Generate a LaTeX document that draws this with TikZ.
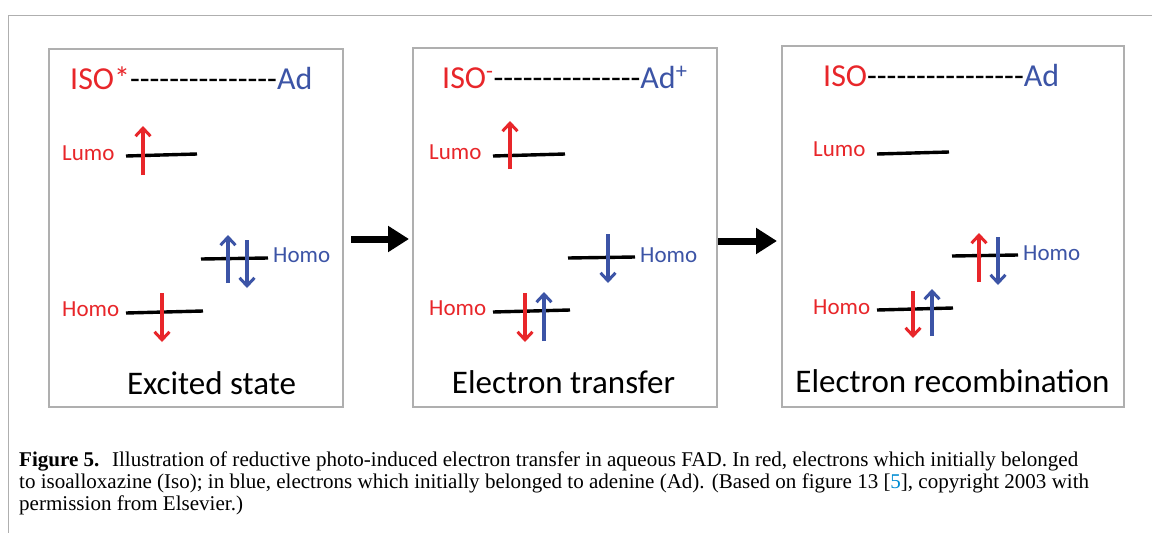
\documentclass[tikz,border=0pt]{standalone}
\usepackage{fontspec}
\usepackage{graphicx}
\usetikzlibrary{arrows.meta}
\newfontfamily\calfont[Ligatures=TeXOff]{Carlito}
\newfontfamily\capfont{Liberation Serif}
\definecolor{isored}{RGB}{232,38,42}
\definecolor{adblue}{RGB}{60,84,166}
\definecolor{framegray}{RGB}{175,175,175}
\definecolor{linkblue}{RGB}{0,140,210}
\newcommand\dashrow[1]{\foreach \i in {1,...,#1}{-\kern0pt}}
\newcommand\captionA{\textbf{Figure 5.}\hspace{0.6em}Illustration of reductive photo-induced electron transfer in aqueous FAD. In red, electrons which initially belonged}
\newcommand\captionB{to isoalloxazine (Iso); in blue, electrons which initially belonged to adenine (Ad). (Based on figure 13 [\textcolor{linkblue}{5}], copyright 2003 with}
\newcommand\captionC{permission from Elsevier.)}
\newlength\capwd
\tikzset{
  panel/.style={draw=framegray, line width=1.2pt, fill=white, inner sep=0pt},
  level/.style={line width=3.4pt, black},
  eup/.style={line width=3.2pt, -{Straight Barb[length=8pt,width=15pt,line width=3pt]}},
  redel/.style={eup, draw=isored},
  blueel/.style={eup, draw=adblue},
  bigarrow/.style={line width=7pt, -{Triangle[length=21pt,width=25pt]}},
  title/.style={anchor=west, inner sep=0pt, font=\calfont\fontsize{32}{36}\selectfont},
  lab/.style={anchor=west, inner sep=0pt, font=\calfont\fontsize{23}{27}\selectfont},
  state/.style={inner sep=0pt, font=\calfont\fontsize{33}{38}\selectfont},
  captext/.style={anchor=base west, inner sep=0pt, font=\capfont\fontsize{21}{24}\selectfont},
}
\begin{document}
\settowidth\capwd{\capfont\fontsize{21}{24}\selectfont\captionA}
\pgfmathsetmacro\capsx{1059pt/\the\capwd}
\begin{tikzpicture}[x=1pt,y=-1pt]
\useasboundingbox (0,0) rectangle (1152,533);
% outer frame
\draw[framegray, line width=1pt] (8,533) -- (8,15) -- (1152,15);

% panels
\node[panel, minimum width=294pt, minimum height=358pt] (p1) at (196,228) {};
\node[panel, minimum width=304pt, minimum height=359pt] (p2) at (565,227.5) {};
\node[panel, minimum width=342pt, minimum height=361pt] (p3) at (953,226.5) {};

% big arrows
\coordinate (a1s) at (351,239);
\coordinate (a1e) at (409,239);
\coordinate (a2s) at (718,241);
\coordinate (a2e) at (777,241);
\draw[bigarrow] (a1s) -- (a1e);
\draw[bigarrow] (a2s) -- (a2e);

% ---------- panel 1 ----------
\node[title] (t1) at (70,78) {\textcolor{isored}{ISO*}\dashrow{15}\textcolor{adblue}{Ad}};
\node[lab, text=isored] (l1) at (62,153) {Lumo};
\node[lab, text=adblue] (h1b) at (273,255) {Homo};
\node[lab, text=isored] (h1r) at (62,309) {Homo};
\draw[level] (126,156) -- (197,154);
\draw[level] (201,259) -- (268,258);
\draw[level] (126,313) -- (203,311);
\draw[redel] (143,175) -- (143,126);
\draw[blueel] (228,283) -- (228,235);
\draw[blueel] (247,240) -- (247,288);
\draw[redel] (162,293) -- (162,342);
\node[state] (s1) at (211.5,383) {Excited state};

% ---------- panel 2 ----------
\node[title] (t2) at (442,77) {\textcolor{isored}{ISO\textsuperscript{-}}\dashrow{15}\textcolor{adblue}{Ad\textsuperscript{+}}};
\node[lab, text=isored] (l2) at (429,152) {Lumo};
\node[lab, text=adblue] (h2b) at (640,255) {Homo};
\node[lab, text=isored] (h2r) at (429,308) {Homo};
\draw[level] (493,156) -- (565,154);
\draw[level] (568,258) -- (635,257);
\draw[level] (493,312) -- (570,310);
\draw[redel] (510,169) -- (510,121);
\draw[blueel] (608,234) -- (608,283);
\draw[redel] (525,293) -- (525,342);
\draw[blueel] (544,341) -- (544,292);
\node[state] (s2) at (563.5,382) {Electron transfer};

% ---------- panel 3 ----------
\node[title] (t3) at (823,75) {\textcolor{isored}{ISO}\dashrow{16}\textcolor{adblue}{Ad}};
\node[lab, text=isored] (l3) at (813,149) {Lumo};
\node[lab, text=adblue] (h3b) at (1023,253) {Homo};
\node[lab, text=isored] (h3r) at (813,307) {Homo};
\draw[level] (877,154) -- (949,152);
\draw[level] (952,256) -- (1018,255);
\draw[level] (877,310) -- (953,308);
\draw[redel] (979,282) -- (979,233);
\draw[blueel] (998,237) -- (998,285);
\draw[redel] (913,291) -- (913,338);
\draw[blueel] (932,336) -- (932,289);
\node[state] (s3) at (952.5,381) {Electron recombination};

% ---------- caption ----------
\node[captext] (c1) at (19,466) {\scalebox{\capsx}[1]{\captionA}};
\node[captext] (c2) at (19,488) {\scalebox{\capsx}[1]{\captionB}};
\node[captext] (c3) at (19,510) {\scalebox{\capsx}[1]{\captionC}};
\end{tikzpicture}
\end{document}
